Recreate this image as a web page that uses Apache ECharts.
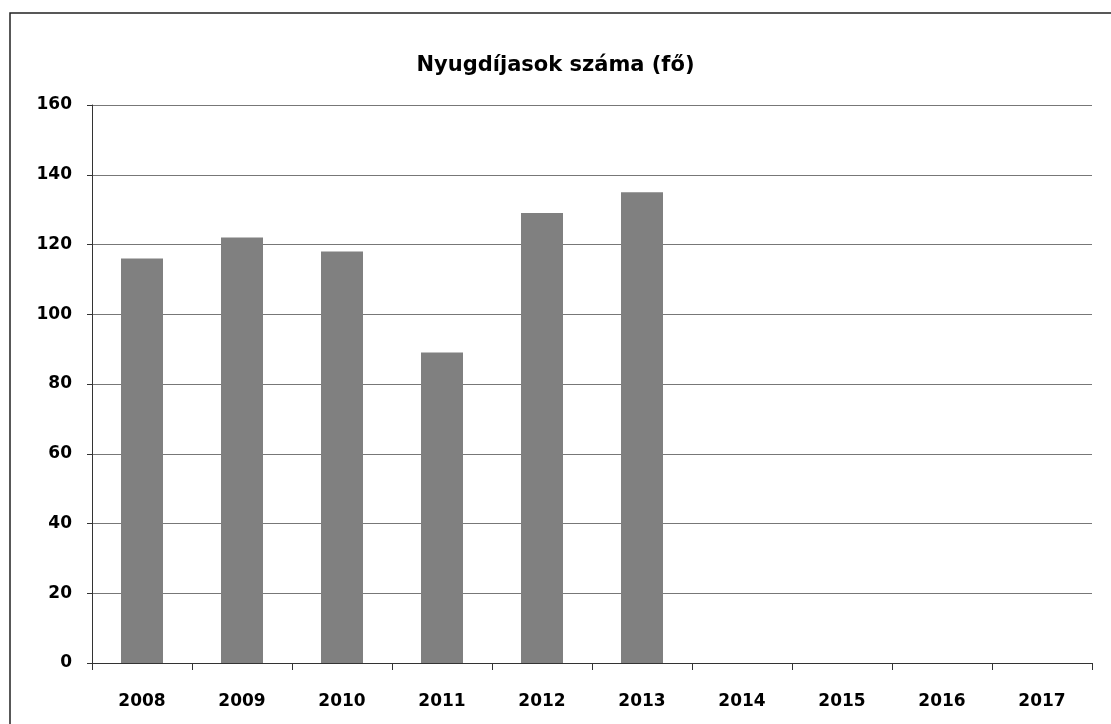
<!DOCTYPE html>
<html>
<head>
<meta charset="utf-8">
<script src="https://cdn.jsdelivr.net/npm/echarts@6/dist/echarts.min.js"></script>
<style>
  html, body { margin: 0; padding: 0; background: #fff; }
  #chart { width: 1111px; height: 724px; }
</style>
</head>
<body>
<div id="chart"></div>
<script>
var years = ["2008", "2009", "2010", "2011", "2012", "2013", "2014", "2015", "2016", "2017"];
var pensioners = [116, 122, 118, 89, 129, 135, null, null, null, null];
var chartTitle = "Nyugdíjasok száma (fő)";

var myChart = echarts.init(document.getElementById("chart"));
myChart.setOption({
    animation: false,
    title: {
        text: chartTitle,
        left: "center",
        top: 50,
        textStyle: { fontFamily: "DejaVu Sans", fontWeight: "bold", fontSize: 21, color: "#000" }
    },
    graphic: [{
        type: "polyline",
        shape: { points: [[10, 724], [10, 13], [1111, 13]] },
        style: { fill: "none", stroke: "#222", lineWidth: 1.5 }
    }],
    grid: { left: 92, right: 19, top: 105, bottom: 61 },
    xAxis: {
        type: "category",
        data: years,
        boundaryGap: true,
        axisLine: { lineStyle: { color: "#333", width: 1 } },
        axisTick: { show: true, alignWithLabel: false, length: 7, lineStyle: { color: "#333" } },
        axisLabel: { margin: 30, color: "#000", fontFamily: "DejaVu Sans", fontWeight: "bold", fontSize: 17 }
    },
    yAxis: {
        type: "value",
        min: 0,
        max: 160,
        interval: 20,
        axisLine: { show: true, lineStyle: { color: "#333", width: 1 } },
        axisTick: { show: true, inside: false, length: 5, lineStyle: { color: "#333" } },
        axisLabel: { margin: 20, color: "#000", fontFamily: "DejaVu Sans", fontWeight: "bold", fontSize: 17 },
        splitLine: { lineStyle: { color: "#777", width: 1 } }
    },
    series: [{
        type: "bar",
        data: pensioners,
        barWidth: "42%",
        itemStyle: { color: "#808080" }
    }]
});
</script>
</body>
</html>
